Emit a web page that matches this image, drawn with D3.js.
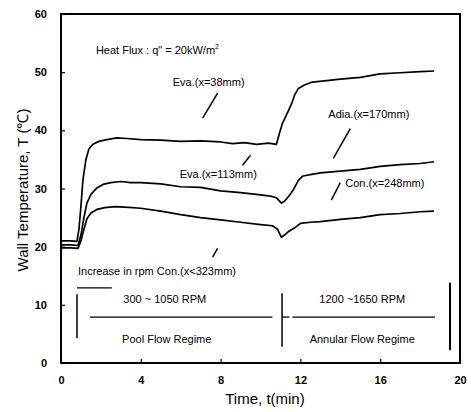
<!DOCTYPE html>
<html>
<head>
<meta charset="utf-8">
<script src="https://cdn.jsdelivr.net/npm/d3@7"></script>
<style>
  body { margin: 0; background: #fff; }
  text { font-family: "Liberation Sans", Arial, sans-serif; fill: #000; }
</style>
</head>
<body>
<div id="chart"></div>
<script>
// axis ticks
const xTicks = [0, 4, 8, 12, 16, 20];
const yTicks = [0, 10, 20, 30, 40, 50, 60];

// Eva.(x=38mm) - top curve
const topTime = [0, 0.5, 0.8, 0.9, 1.0, 1.1, 1.25, 1.4, 1.6, 1.9, 2.3, 2.8, 3.3, 4, 5, 6, 7, 8, 8.6, 9.2, 9.8, 10.4, 10.8,
  10.95, 11.1, 11.35, 11.55, 11.7, 11.9, 12.2, 12.6, 13.2, 14, 15, 16, 17, 18, 18.7];
const topTemp = [21, 21, 20.9, 23, 27, 31.5, 35, 36.8, 37.6, 38.1, 38.4, 38.7, 38.6, 38.4, 38.3, 38.1, 38.2, 38.0, 37.7, 37.9, 37.6, 37.8, 37.6,
  39.5, 41.2, 43, 44.5, 46, 47.2, 47.8, 48.3, 48.5, 48.8, 49.1, 49.7, 49.9, 50.1, 50.2];

// Adia.(x=170mm) - middle curve
const midTime = [0, 0.5, 0.85, 1.0, 1.15, 1.3, 1.5, 1.8, 2.1, 2.5, 3.0, 3.5, 4, 5, 6, 7, 8, 9, 10, 10.5, 10.8,
  11.05, 11.2, 11.4, 11.65, 11.9, 12.1, 12.5, 13, 14, 15, 16, 17, 18, 18.7];
const midTemp = [20.3, 20.3, 20.2, 22, 25, 27.5, 29, 30.1, 30.7, 31.0, 31.2, 31.0, 31.0, 30.8, 30.3, 30.2, 29.6, 29.3, 28.9, 28.7, 28.4,
  27.5, 27.8, 28.6, 29.8, 31.4, 32.1, 32.4, 32.7, 33.0, 33.3, 33.8, 34.1, 34.3, 34.6];

// Con.(x=248mm) - bottom curve
const botTime = [0, 0.5, 0.85, 1.0, 1.15, 1.3, 1.5, 1.8, 2.2, 2.7, 3.2, 4, 5, 6, 7, 8, 9, 10, 10.6, 10.85,
  11.05, 11.2, 11.4, 11.7, 12.0, 12.5, 13, 14, 15, 16, 17, 18, 18.7];
const botTemp = [19.8, 19.8, 19.7, 21.0, 23.0, 24.8, 25.8, 26.4, 26.7, 26.9, 26.8, 26.6, 26.1, 25.5, 25.0, 24.6, 24.2, 23.8, 23.6, 23.0,
  21.6, 22.0, 22.6, 23.2, 24.0, 24.2, 24.3, 24.7, 25.0, 25.5, 25.7, 26.0, 26.1];

const width = 471, height = 412;
const margin = { top: 14, right: 11, bottom: 49, left: 61 };

const svg = d3.select("#chart").append("svg")
  .attr("width", width)
  .attr("height", height);

const x = d3.scaleLinear().domain([0, 20]).range([margin.left, width - margin.right]);
const y = d3.scaleLinear().domain([0, 60]).range([height - margin.bottom, margin.top]);

// axes (ticks point inward)
const yAxis = svg.append("g")
  .attr("transform", "translate(" + margin.left + ",0)")
  .call(d3.axisLeft(y).tickValues(yTicks).tickSize(-4).tickPadding(14).tickFormat(d3.format("d")));
const xAxis = svg.append("g")
  .attr("transform", "translate(0," + (height - margin.bottom) + ")")
  .call(d3.axisBottom(x).tickValues(xTicks).tickSize(-4).tickPadding(13).tickFormat(d3.format("d")));
[yAxis, xAxis].forEach(function (a) {
  a.select(".domain").remove();
  a.selectAll("line").attr("stroke", "#000").attr("stroke-width", 1.2);
  a.selectAll("text").attr("font-size", 11).attr("font-weight", "bold")
    .attr("font-family", "'Liberation Sans', Arial, sans-serif");
});

// frame
svg.append("rect")
  .attr("x", x(0)).attr("y", y(60))
  .attr("width", x(20) - x(0)).attr("height", y(0) - y(60))
  .attr("fill", "none").attr("stroke", "#000").attr("stroke-width", 2);

// axis titles
svg.append("text")
  .attr("transform", "rotate(-90)")
  .attr("x", -190).attr("y", 28)
  .attr("text-anchor", "middle")
  .attr("font-size", 15)
  .text("Wall Temperature, T (\u2103)");
svg.append("text")
  .attr("x", 265).attr("y", 404)
  .attr("text-anchor", "middle")
  .attr("font-size", 15)
  .text("Time, t(min)");

// curves
const line = d3.line().x(d => x(d[0])).y(d => y(d[1]));
const series = [
  d3.zip(topTime, topTemp),
  d3.zip(midTime, midTemp),
  d3.zip(botTime, botTemp)
];
svg.selectAll(".curve").data(series).join("path")
  .attr("class", "curve")
  .attr("d", line)
  .attr("fill", "none")
  .attr("stroke", "#000")
  .attr("stroke-width", 1.7)
  .attr("stroke-linejoin", "round");

// annotations
function label(t, v, str, size) {
  return svg.append("text").attr("x", x(t)).attr("y", y(v))
    .attr("font-size", size || 11).text(str);
}
function seg(t1, v1, t2, v2, w) {
  svg.append("line")
    .attr("x1", x(t1)).attr("y1", y(v1)).attr("x2", x(t2)).attr("y2", y(v2))
    .attr("stroke", "#000").attr("stroke-width", w || 1.5);
}

const hf = label(1.75, 53.2, "Heat Flux : q\" = 20kW/m");
hf.append("tspan").attr("font-size", 7).attr("dy", -5).text("2");

label(5.6, 47.7, "Eva.(x=38mm)");
seg(7.85, 46.4, 7.1, 42.1);

label(5.95, 31.8, "Eva.(x=113mm)");
seg(9.1, 34.0, 9.5, 35.7);

label(13.4, 42.1, "Adia.(x=170mm)");
seg(14.5, 40.3, 13.65, 35.2);

label(14.25, 30.2, "Con.(x=248mm)");
seg(14.0, 31.0, 13.55, 28.0);

label(0.85, 15.2, "Increase in rpm Con.(x<323mm)");
seg(7.6, 18.2, 7.85, 19.7);

// rpm regime brackets
seg(0.8, 12.9, 2.55, 12.9, 1.3);
seg(0.8, 11.8, 0.8, 4.3, 1.5);
seg(1.45, 7.9, 10.6, 7.9, 1.3);
seg(11.08, 12.0, 11.08, 2.8, 1.5);
seg(11.08, 7.9, 11.45, 7.9, 1.3);
seg(11.6, 7.9, 18.75, 7.9, 1.3);
seg(19.5, 13.8, 19.5, 2.2, 2);

svg.append("text").attr("x", x(5.2)).attr("y", y(10.3))
  .attr("text-anchor", "middle").attr("font-size", 11).text("300 ~ 1050 RPM");
svg.append("text").attr("x", x(15.1)).attr("y", y(10.3))
  .attr("text-anchor", "middle").attr("font-size", 11).text("1200 ~1650 RPM");
svg.append("text").attr("x", x(5.3)).attr("y", y(3.5))
  .attr("text-anchor", "middle").attr("font-size", 11).text("Pool Flow Regime");
svg.append("text").attr("x", x(15.1)).attr("y", y(3.5))
  .attr("text-anchor", "middle").attr("font-size", 11).text("Annular Flow Regime");
</script>
</body>
</html>
